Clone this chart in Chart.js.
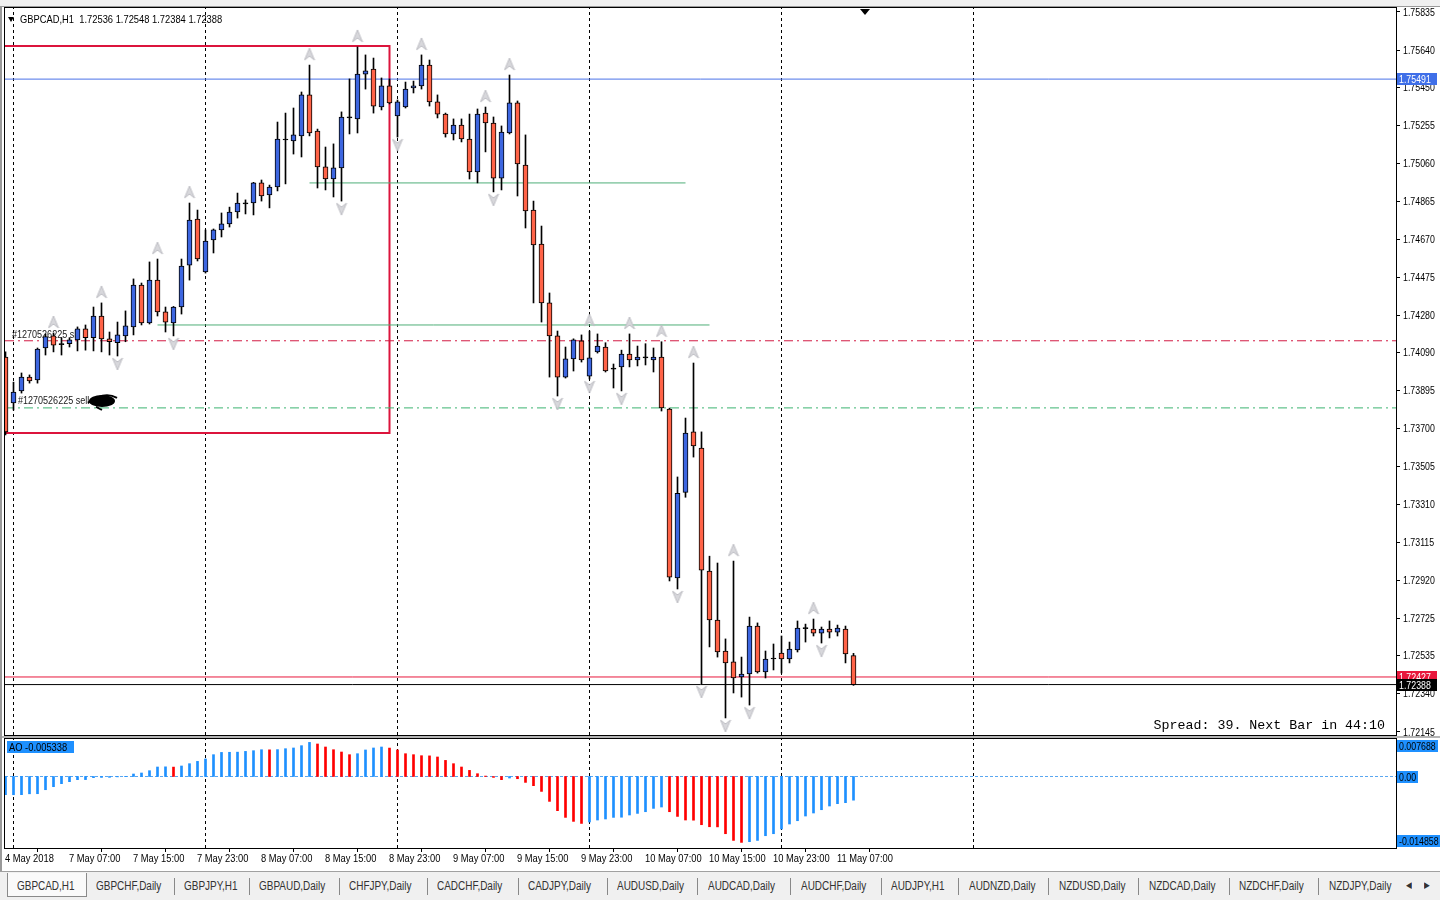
<!DOCTYPE html>
<html>
<head>
<meta charset="utf-8">
<title>GBPCAD,H1</title>
<script src="https://cdn.jsdelivr.net/npm/chart.js@4.4.1/dist/chart.umd.min.js"></script>
<style>
  html, body { margin:0; padding:0; background:#ffffff; }
  body { width:1440px; height:900px; position:relative; overflow:hidden;
         font-family:"Liberation Sans",Arial,sans-serif; }
  #topbar { position:absolute; left:0; top:0; width:1440px; height:6px; background:#f0f0f0; border-bottom:1px solid #9a9a9a; z-index:3; }
  #frameL { position:absolute; left:0; top:7px; width:2px; height:864px; background:#9a9a9a; z-index:3; }
  #mainCanvas { position:absolute; left:0; top:0; }
  #panelSep { position:absolute; left:0; top:736px; width:1440px; height:2px; background:#b4b4b4; z-index:2; }
  #aoCanvas { position:absolute; left:0; top:737px; }
  #tabs { position:absolute; left:0; top:871px; width:1440px; height:29px; background:#f0f0f0; border-top:1px solid #a0a0a0; z-index:3; font-size:12px; color:#333; }
  #tabs .t { position:absolute; top:7px; white-space:nowrap; transform:scaleX(0.83); transform-origin:0 0; }
  #tabs .s { position:absolute; top:6px; width:1px; height:17px; background:#888; }
  #tabs .active { position:absolute; left:7px; top:1px; width:78px; height:23px; background:#fafafa; border:1px solid #8a8a8a; border-top:none; }
</style>
</head>
<body>
<div id="topbar"></div>
<div id="frameL"></div>
<canvas id="mainCanvas" width="1440" height="737"></canvas>
<div id="panelSep"></div>
<canvas id="aoCanvas" width="1440" height="133"></canvas>
<div id="tabs"></div>
<script>
// ---------------- DATA ----------------
const symbolTitle = "GBPCAD,H1";
const firstBarIndex = -1;            // bar index of first candle (0 = 7 May 00:00)
const opens  = [1.74067,1.73831,1.73893,1.73964,1.73949,1.74113,1.74175,1.74135,1.74135,1.74155,1.74211,1.74166,1.74277,1.74160,1.74140,1.74175,1.74221,1.74436,1.74241,1.74461,1.74298,1.74241,1.74323,1.74538,1.74774,1.74503,1.74667,1.74718,1.74749,1.74810,1.74856,1.74856,1.74959,1.74897,1.74938,1.75179,1.75174,1.75200,1.75410,1.75225,1.75041,1.74979,1.75036,1.75292,1.75287,1.75517,1.75543,1.75348,1.75456,1.75302,1.75348,1.75446,1.75456,1.75563,1.75374,1.75312,1.75210,1.75256,1.75184,1.75015,1.75317,1.75266,1.74984,1.75215,1.75369,1.75051,1.74820,1.74646,1.74344,1.74175,1.73964,1.74057,1.74150,1.73969,1.74093,1.74118,1.74010,1.74016,1.74082,1.74052,1.74062,1.74052,1.74067,1.73800,1.72934,1.73373,1.73683,1.73600,1.72970,1.72719,1.72560,1.72504,1.72427,1.72442,1.72688,1.72453,1.72519,1.72550,1.72519,1.72565,1.72678,1.72673,1.72652,1.72673,1.72657,1.72673,1.72536];
const highs  = [1.74093,1.73938,1.73985,1.73975,1.74113,1.74185,1.74190,1.74166,1.74166,1.74221,1.74231,1.74323,1.74344,1.74195,1.74246,1.74303,1.74467,1.74446,1.74554,1.74569,1.74323,1.74326,1.74569,1.74856,1.74820,1.74718,1.74723,1.74805,1.74835,1.74907,1.74872,1.74962,1.74974,1.74948,1.75271,1.75317,1.75343,1.75425,1.75563,1.75235,1.75143,1.75159,1.75323,1.75492,1.75656,1.75615,1.75599,1.75497,1.75492,1.75384,1.75476,1.75481,1.75615,1.75589,1.75410,1.75317,1.75287,1.75287,1.75312,1.75338,1.75348,1.75297,1.75251,1.75512,1.75379,1.75205,1.74866,1.74738,1.74395,1.74200,1.74118,1.74160,1.74180,1.74200,1.74185,1.74140,1.74031,1.74102,1.74185,1.74123,1.74135,1.74113,1.74145,1.73805,1.73452,1.73754,1.74036,1.73683,1.73046,1.73011,1.72622,1.73021,1.72529,1.72734,1.72704,1.72560,1.72596,1.72637,1.72606,1.72714,1.72698,1.72724,1.72683,1.72714,1.72693,1.72688,1.72548];
const lows   = [1.73667,1.73795,1.73882,1.73933,1.73933,1.74077,1.74093,1.74077,1.74118,1.74098,1.74102,1.74098,1.74093,1.74077,1.74072,1.74145,1.74180,1.74231,1.74236,1.74277,1.74195,1.74175,1.74287,1.74461,1.74559,1.74497,1.74600,1.74682,1.74733,1.74779,1.74800,1.74795,1.74866,1.74831,1.74918,1.74954,1.75107,1.75092,1.75200,1.74933,1.74923,1.74887,1.74866,1.75210,1.75215,1.75440,1.75317,1.75333,1.75364,1.75194,1.75343,1.75420,1.75440,1.75353,1.75292,1.75194,1.75179,1.75169,1.74979,1.74959,1.75118,1.74913,1.74923,1.75210,1.74892,1.74728,1.74344,1.74246,1.73964,1.73867,1.73959,1.73995,1.74041,1.73954,1.74087,1.73990,1.73908,1.73893,1.74016,1.74021,1.74026,1.73990,1.73790,1.72919,1.72878,1.73348,1.73554,1.72391,1.72581,1.72529,1.72217,1.72345,1.72324,1.72283,1.72447,1.72422,1.72463,1.72447,1.72499,1.72555,1.72606,1.72637,1.72601,1.72627,1.72637,1.72499,1.72384];
const closes = [1.73683,1.73887,1.73964,1.73944,1.74108,1.74171,1.74128,1.74130,1.74155,1.74211,1.74166,1.74277,1.74160,1.74145,1.74180,1.74226,1.74436,1.74241,1.74461,1.74298,1.74246,1.74323,1.74533,1.74769,1.74569,1.74661,1.74718,1.74749,1.74810,1.74856,1.74852,1.74959,1.74892,1.74938,1.75184,1.75184,1.75205,1.75410,1.75215,1.75041,1.74979,1.75036,1.75297,1.75297,1.75517,1.75533,1.75353,1.75456,1.75369,1.75374,1.75440,1.75456,1.75563,1.75374,1.75312,1.75210,1.75256,1.75184,1.75015,1.75312,1.75266,1.74984,1.75220,1.75369,1.75056,1.74815,1.74641,1.74344,1.74175,1.73964,1.74057,1.74155,1.74052,1.74062,1.74123,1.73995,1.74005,1.74082,1.74052,1.74067,1.74065,1.74067,1.73806,1.72939,1.73368,1.73677,1.73611,1.72975,1.72719,1.72555,1.72499,1.72422,1.72442,1.72688,1.72453,1.72519,1.72522,1.72519,1.72570,1.72678,1.72675,1.72652,1.72673,1.72657,1.72678,1.72545,1.72388];
const aoValues = [-0.00412,-0.00411,-0.00410,-0.00390,-0.00388,-0.00298,-0.00230,-0.00162,-0.00117,-0.00072,-0.00070,-0.00027,-0.00021,-0.00019,-0.00008,-0.00004,0.00056,0.00079,0.00131,0.00214,0.00218,0.00212,0.00237,0.00289,0.00341,0.00395,0.00492,0.00543,0.00546,0.00549,0.00566,0.00582,0.00604,0.00601,0.00606,0.00627,0.00643,0.00695,0.007688,0.00733,0.00665,0.00604,0.00552,0.00492,0.00514,0.00598,0.00643,0.00665,0.00641,0.00598,0.00514,0.00492,0.00469,0.00465,0.00440,0.00363,0.00289,0.00214,0.00138,0.00063,0.00010,-0.00020,-0.00072,-0.00034,-0.00050,-0.00133,-0.00207,-0.00336,-0.00561,-0.00771,-0.00922,-0.01012,-0.01058,-0.01026,-0.00981,-0.00958,-0.00922,-0.00918,-0.00868,-0.00832,-0.00794,-0.00719,-0.00688,-0.00794,-0.00900,-0.00981,-0.00985,-0.01087,-0.01133,-0.01136,-0.01290,-0.01441,-0.014858,-0.01470,-0.01441,-0.01335,-0.01290,-0.01184,-0.01071,-0.00997,-0.00891,-0.00823,-0.00749,-0.00665,-0.00613,-0.00590,-0.005338];
const upFractals   = [6,12,19,23,38,44,52,60,63,73,78,82,86,91,101];   // candle numbers
const downFractals = [14,21,42,49,61,69,73,77,84,87,90,93,102];
const priceTicks = [1.75835,1.75640,1.75450,1.75255,1.75060,1.74865,1.74670,1.74475,1.74280,1.74090,1.73895,1.73700,1.73505,1.73310,1.73115,1.72920,1.72725,1.72535,1.72340,1.72145];
const timeTickBars = [-1,7,15,23,31,39,47,55,63,71,79,87,95,103];
const timeLabels = ["4 May 2018","7 May 07:00","7 May 15:00","7 May 23:00","8 May 07:00","8 May 15:00","8 May 23:00","9 May 07:00","9 May 15:00","9 May 23:00","10 May 07:00","10 May 15:00","10 May 23:00","11 May 07:00"];
const daySeparators = [0,24,48,72,96,120];
const bidPrice = 1.72388, askPrice = 1.72427, spreadPoints = 39, nextBar = "44:10";
const alertLevel = 1.75491;
const orderTicket = "#1270526225";
const stopLevel = 1.74150;       // red dash-dot
const openLevel = 1.73806;       // green dash-dot
const greenSegments = [[37,84,1.74959],[18,87,1.74231]];
const boxLeft = -3, boxRight = 47, boxTop = 1.75661, boxBottom = 1.73677;
const aoTop = 0.007688, aoBottom = -0.014858, aoLast = -0.005338;
const tabNames = ["GBPCAD,H1","GBPCHF,Daily","GBPJPY,H1","GBPAUD,Daily","CHFJPY,Daily","CADCHF,Daily","CADJPY,Daily","AUDUSD,Daily","AUDCAD,Daily","AUDCHF,Daily","AUDJPY,H1","AUDNZD,Daily","NZDUSD,Daily","NZDCAD,Daily","NZDCHF,Daily","NZDJPY,Daily"];

// ---------------- LAYOUT / STYLE ----------------
const xMin = -1.0625, xMax = 172.8125;
const priceMin = 1.721296, priceMax = 1.758555;
const aoMin = -0.01612, aoMax = 0.00868;
const FONT = '"Liberation Sans",Arial,sans-serif';
const UI = '11px ' + FONT;
const BULL = '#3d66e0', BEAR = '#ff6347';
const AO_UP = '#1e90ff', AO_DN = '#ff0000';
Chart.defaults.font.family = FONT;
Chart.defaults.font.size = 11;
Chart.defaults.color = '#000';
Chart.defaults.animation = false;

const barX = opens.map((_, k) => k + firstBarIndex);

function narrowText(ctx, text, x, y, align, sx) {
  ctx.save();
  ctx.translate(x, y);
  ctx.scale(sx, 1);
  ctx.textAlign = align || 'left';
  ctx.textBaseline = 'middle';
  ctx.fillText(text, 0, 0);
  ctx.restore();
}

function makeArrow(up, offset) {
  const c = document.createElement('canvas');
  c.width = 12; c.height = 44;
  const g = c.getContext('2d');
  const cx = 6, cy = 22 + offset;
  g.beginPath();
  if (up) { g.moveTo(cx, cy - 6); g.lineTo(cx + 5, cy + 6); g.lineTo(cx, cy + 2); g.lineTo(cx - 5, cy + 6); }
  else    { g.moveTo(cx, cy + 6); g.lineTo(cx + 5, cy - 6); g.lineTo(cx, cy - 2); g.lineTo(cx - 5, cy - 6); }
  g.closePath();
  g.fillStyle = '#d8d8dc'; g.fill();
  g.strokeStyle = '#bcbcc2'; g.lineWidth = 1; g.stroke();
  return c;
}
const upArrow = makeArrow(true, -11), downArrow = makeArrow(false, 8);

function hline(price, from, to, color, dash, width, order) {
  return { type:'line', data:[{x:from, y:price},{x:to, y:price}], borderColor:color, borderWidth:width || 1,
           borderDash:dash || [], pointRadius:0, order:order || 8, clip:0 };
}

const mainDatasets = [];
daySeparators.forEach(s => mainDatasets.push({ type:'line', data:[{x:s,y:priceMin},{x:s,y:priceMax}],
  borderColor:'#000', borderWidth:1, borderDash:[3,3], pointRadius:0, order:10 }));
mainDatasets.push(hline(alertLevel, xMin, xMax, '#4a72e8', [], 1, 9));
greenSegments.forEach(g => mainDatasets.push(hline(g[2], g[0], g[1], '#4fae78', [], 1, 9)));
mainDatasets.push(hline(stopLevel, xMin, xMax, '#d21a44', [9,4,2,4], 1, 9));
mainDatasets.push(hline(openLevel, xMin, xMax, '#3cb371', [9,4,2,4], 1, 9));
mainDatasets.push({ type:'line', data:[{x:boxLeft,y:boxTop},{x:boxRight,y:boxTop},{x:boxRight,y:boxBottom},{x:boxLeft,y:boxBottom}],
  borderColor:'#dc143c', borderWidth:2, pointRadius:0, order:9, tension:0 });
mainDatasets.push(hline(askPrice, xMin, xMax, '#e8173c', [], 1, 7));
mainDatasets.push(hline(bidPrice, xMin, xMax, '#000000', [], 1, 7));
mainDatasets.push({ type:'bar', data: opens.map((o,k)=>({x:barX[k], y:[lows[k], highs[k]]})),
  backgroundColor:'#000', borderWidth:0, barThickness:1, grouped:false, order:3 });
mainDatasets.push({ type:'bar', data: opens.map((o,k)=>({x:barX[k], y:[Math.min(o,closes[k]), Math.max(o,closes[k])]})),
  backgroundColor: opens.map((o,k)=> Math.abs(closes[k]-o) < 0.00006 ? '#000' : (closes[k] >= o ? BULL : BEAR)),
  borderColor:'#000', borderWidth:1, borderSkipped:false, barThickness:5, grouped:false, minBarLength:1, order:2 });
mainDatasets.push({ type:'line', data: upFractals.map(k=>({x:barX[k], y:highs[k]})), showLine:false,
  pointStyle:upArrow, pointRadius:6, order:1, clip:false });
mainDatasets.push({ type:'line', data: downFractals.map(k=>({x:barX[k], y:lows[k]})), showLine:false,
  pointStyle:downArrow, pointRadius:6, order:1, clip:false });

function axisBox(ctx, y, text, bg, fg, x0, w) {
  ctx.fillStyle = bg;
  ctx.fillRect(x0, Math.round(y) - 6, w, 12);
  ctx.fillStyle = fg;
  narrowText(ctx, text, x0 + 2, Math.round(y) + 0.5, 'left', 0.8);
}

const mainDecor = {
  id:'mainDecor',
  beforeDatasetsDraw(chart) {
    const {ctx, scales:{y}} = chart;
    ctx.save();
    ctx.font = UI;
    ctx.fillStyle = '#202020';
    narrowText(ctx, orderTicket + ' sl', 12, y.getPixelForValue(stopLevel) - 6, 'left', 0.82);
    narrowText(ctx, orderTicket + ' sell', 18, y.getPixelForValue(openLevel) - 7, 'left', 0.82);
    // redaction scribble after the sell label
    const yy = y.getPixelForValue(openLevel) - 7;
    ctx.fillStyle = '#000';
    ctx.beginPath(); ctx.ellipse(102, yy, 13, 6, 0, 0, Math.PI*2); ctx.fill();
    ctx.strokeStyle = '#000'; ctx.lineWidth = 2;
    ctx.beginPath(); ctx.moveTo(88, yy+2); ctx.quadraticCurveTo(104, yy-10, 117, yy-3);
    ctx.moveTo(96, yy+6); ctx.lineTo(102, yy+9); ctx.stroke();
    ctx.restore();
  },
  afterDraw(chart) {
    const {ctx, chartArea:a, scales:{y}} = chart;
    ctx.save();
    ctx.strokeStyle = '#000'; ctx.lineWidth = 1;
    ctx.strokeRect(a.left - 0.5, a.top - 0.5, a.right - a.left + 1, a.bottom - a.top + 1);
    ctx.font = UI;
    ctx.fillStyle = '#000';
    y.ticks.forEach(t => narrowText(ctx, t.value.toFixed(5), a.right + 7, y.getPixelForValue(t.value) + 0.5, 'left', 0.8));
    axisBox(ctx, y.getPixelForValue(alertLevel), alertLevel.toFixed(5), '#3f6fe8', '#fff', 1397, 40);
    axisBox(ctx, y.getPixelForValue(askPrice), askPrice.toFixed(5), '#e8173c', '#fff', 1397, 40);
    axisBox(ctx, y.getPixelForValue(bidPrice), bidPrice.toFixed(5), '#000', '#fff', 1397, 40);
    // header
    ctx.fillStyle = '#000';
    ctx.beginPath(); ctx.moveTo(8, 17); ctx.lineTo(14, 17); ctx.lineTo(11, 22); ctx.closePath(); ctx.fill();
    const last = opens.length - 1;
    narrowText(ctx, symbolTitle + '  ' + [opens[last], highs[last], lows[last], closes[last]].map(v=>v.toFixed(5)).join(' '), 20, 19.5, 'left', 0.85);
    // chart shift marker
    ctx.beginPath(); ctx.moveTo(860, a.top + 1); ctx.lineTo(870, a.top + 1); ctx.lineTo(865, a.top + 7); ctx.closePath(); ctx.fill();
    // spread / timer
    ctx.font = '13.3px "Liberation Mono","DejaVu Sans Mono",monospace';
    ctx.textAlign = 'right'; ctx.textBaseline = 'middle';
    ctx.fillText('Spread: ' + spreadPoints + '. Next Bar in ' + nextBar, 1385, 725);
    ctx.restore();
  }
};

new Chart(document.getElementById('mainCanvas'), {
  type:'bar',
  data:{ datasets: mainDatasets },
  options:{
    responsive:false, devicePixelRatio:1, events:[],
    layout:{ autoPadding:false, padding:{ left:5, top:8, right:0, bottom:2 } },
    plugins:{ legend:{display:false}, tooltip:{enabled:false} },
    scales:{
      x:{ type:'linear', min:xMin, max:xMax, display:false, offset:false },
      y:{ type:'linear', position:'right', min:priceMin, max:priceMax,
          afterBuildTicks: s => { s.ticks = priceTicks.map(v => ({value:v})); },
          afterFit: s => { s.width = 44; },
          ticks:{ display:false },
          grid:{ drawOnChartArea:false, drawTicks:true, tickLength:4, color:'#000' },
          border:{ display:true, color:'#000' } }
    }
  },
  plugins:[mainDecor]
});

// ---------------- AO PANEL ----------------
const aoColors = aoValues.map((v,k) => (k === 0 || v >= aoValues[k-1]) ? AO_UP : AO_DN);
const aoDatasets = [];
daySeparators.forEach(s => aoDatasets.push({ type:'line', data:[{x:s,y:aoMin},{x:s,y:aoMax}],
  borderColor:'#000', borderWidth:1, borderDash:[3,3], pointRadius:0, order:10 }));
aoDatasets.push({ type:'line', data:[{x:xMin,y:0},{x:xMax,y:0}], borderColor:'#5aa7f0', borderWidth:1, borderDash:[3,2], pointRadius:0, order:9 });
aoDatasets.push({ type:'bar', data: aoValues.map((v,k)=>({x:barX[k], y:v})), backgroundColor:aoColors,
  borderWidth:0, barThickness:2, grouped:false, order:1 });

const aoDecor = {
  id:'aoDecor',
  afterDraw(chart) {
    const {ctx, chartArea:a, scales:{x, y}} = chart;
    ctx.save();
    ctx.strokeStyle = '#000'; ctx.lineWidth = 1;
    ctx.strokeRect(a.left - 0.5, a.top + 0.5, a.right - a.left + 1, a.bottom - a.top);
    ctx.font = UI;
    ctx.fillStyle = '#000';
    x.ticks.forEach(t => {
      const i = timeTickBars.indexOf(t.value);
      if (i >= 0) narrowText(ctx, timeLabels[i], x.getPixelForValue(t.value) - 0.5, a.bottom + 10.5, 'left', 0.85);
    });
    ctx.fillStyle = '#1e90ff'; ctx.fillRect(7, a.top + 3, 67, 12);
    ctx.fillStyle = '#000';
    narrowText(ctx, 'AO ' + aoLast.toFixed(6), 9, a.top + 9.5, 'left', 0.85);
    axisBox(ctx, a.top + 8, aoTop.toFixed(6), '#1e90ff', '#000', 1397, 41);
    axisBox(ctx, y.getPixelForValue(0), '0.00', '#1e90ff', '#000', 1397, 21);
    axisBox(ctx, a.bottom - 7, aoBottom.toFixed(6), '#1e90ff', '#000', 1397, 43);
    ctx.restore();
  }
};

new Chart(document.getElementById('aoCanvas'), {
  type:'bar',
  data:{ datasets: aoDatasets },
  options:{
    responsive:false, devicePixelRatio:1, events:[],
    layout:{ autoPadding:false, padding:{ left:5, top:1, right:0, bottom:0 } },
    plugins:{ legend:{display:false}, tooltip:{enabled:false} },
    scales:{
      x:{ type:'linear', min:xMin, max:xMax, offset:false, position:'bottom',
          afterBuildTicks: s => { s.ticks = timeTickBars.map(v => ({value:v})); },
          afterFit: s => { s.height = 22; },
          ticks:{ display:false },
          grid:{ drawOnChartArea:false, drawTicks:true, tickLength:4, color:'#000' },
          border:{ display:true, color:'#000' } },
      y:{ type:'linear', position:'right', min:aoMin, max:aoMax,
          afterFit: s => { s.width = 44; },
          ticks:{ display:false }, grid:{ display:false },
          border:{ display:true, color:'#000' } }
    }
  },
  plugins:[aoDecor]
});

// ---------------- TABS ----------------
const tabLeft = [17,96,184,259,349,437,528,617,708,801,891,969,1059,1149,1239,1329];
const tabSeps = [174,249,339,427,518,607,697,790,881,958,1048,1138,1229,1318];
const tabs = document.getElementById('tabs');
let html = '<div class="active"></div>';
tabNames.forEach((n,i) => { html += '<span class="t" style="left:' + tabLeft[i] + 'px">' + n + '</span>'; });
tabSeps.forEach(x => { html += '<div class="s" style="left:' + x + 'px"></div>'; });
html += '<span class="t" style="left:1406px;font-size:9px;top:8px">&#9664;</span><span class="t" style="left:1424px;font-size:9px;top:8px">&#9654;</span>';
tabs.innerHTML = html;
</script>
</body>
</html>
